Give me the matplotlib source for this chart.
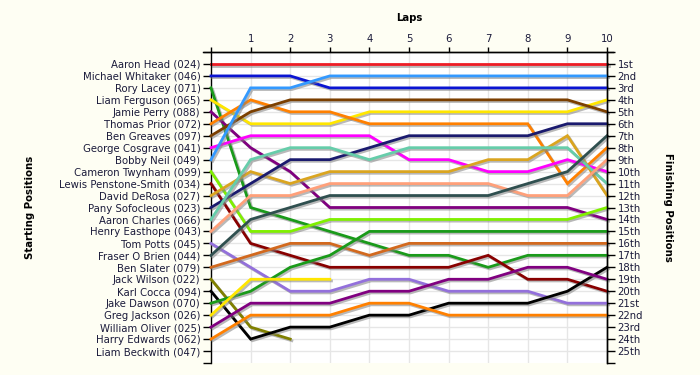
import numpy as np
import matplotlib
matplotlib.use("Agg")
import matplotlib.pyplot as plt
import matplotlib.patheffects as pe

laps = list(range(11))
lap_labels = ["", "1", "2", "3", "4", "5", "6", "7", "8", "9", "10"]

starting_names = [
    "Aaron Head (024)", "Michael Whitaker (046)", "Rory Lacey (071)", "Liam Ferguson (065)",
    "Jamie Perry (088)", "Thomas Prior (072)", "Ben Greaves (097)", "George Cosgrave (041)",
    "Bobby Neil (049)", "Cameron Twynham (099)", "Lewis Penstone-Smith (034)", "David DeRosa (027)",
    "Pany Sofocleous (023)", "Aaron Charles (066)", "Henry Easthope (043)", "Tom Potts (045)",
    "Fraser O Brien (044)", "Ben Slater (079)", "Jack Wilson (022)", "Karl Cocca (094)",
    "Jake Dawson (070)", "Greg Jackson (026)", "William Oliver (025)", "Harry Edwards (062)",
    "Liam Beckwith (047)",
]

finishing_labels = [
    "1st", "2nd", "3rd", "4th", "5th", "6th", "7th", "8th", "9th", "10th", "11th", "12th",
    "13th", "14th", "15th", "16th", "17th", "18th", "19th", "20th", "21st", "22nd", "23rd",
    "24th", "25th",
]

N = None
# position at laps 0..10 for each driver (same order as starting_names)
positions = [
    [1, 1, 1, 1, 1, 1, 1, 1, 1, 1, 1],
    [2, 2, 2, 3, 3, 3, 3, 3, 3, 3, 3],
    [3, 13, 14, 15, 16, 17, 17, 18, 17, 17, 17],
    [4, 6, 6, 6, 5, 5, 5, 5, 5, 5, 4],
    [5, 8, 10, 13, 13, 13, 13, 13, 13, 13, 14],
    [6, 4, 5, 5, 6, 6, 6, 6, 6, 11, 8],
    [7, 5, 4, 4, 4, 4, 4, 4, 4, 4, 5],
    [8, 7, 7, 7, 7, 9, 9, 10, 10, 9, 10],
    [9, 3, 3, 2, 2, 2, 2, 2, 2, 2, 2],
    [10, 15, 15, 14, 14, 14, 14, 14, 14, 14, 13],
    [11, 16, 17, 18, 18, 18, 18, 17, 19, 19, 20],
    [12, 10, 11, 10, 10, 10, 10, 9, 9, 7, 12],
    [13, 11, 9, 9, 8, 7, 7, 7, 7, 6, 6],
    [14, 9, 8, 8, 9, 8, 8, 8, 8, 8, 11],
    [15, 12, 12, 11, 11, 11, 11, 11, 12, 12, 9],
    [16, 18, 20, 20, 19, 19, 20, 20, 20, 21, 21],
    [17, 14, 13, 12, 12, 12, 12, 12, 11, 10, 7],
    [18, 17, 16, 16, 17, 16, 16, 16, 16, 16, 16],
    [19, 23, 24, N, N, N, N, N, N, N, N],
    [20, 24, 23, 23, 22, 22, 21, 21, 21, 20, 18],
    [21, 20, 18, 17, 15, 15, 15, 15, 15, 15, 15],
    [22, 19, 19, 19, N, N, N, N, N, N, N],
    [23, 21, 21, 21, 20, 20, 19, 19, 18, 18, 19],
    [24, 22, 22, 22, 21, 21, 22, 22, 22, 22, 22],
    [N, N, N, N, N, N, N, N, N, N, N],
]

colors = [
    "#EE1C25", "#0A14D2", "#1A9A1A", "#FFE600", "#800080", "#FF8000", "#7B3F00", "#FF00FF",
    "#3399FF", "#80F000", "#880000", "#DAA520", "#1A1A6E", "#66CDAA", "#FFA07A", "#9370DB",
    "#2F4F4F", "#D2691E", "#808000", "#000000", "#1A9A1A", "#FFE600", "#800080", "#FF8000",
    "#888888",
]

FS = 7.3
TXT = "#1a1a3a"

fig = plt.figure(figsize=(7, 3.75), dpi=100, facecolor="#FEFEF3")
ax = fig.add_axes([211 / 700, 1 - 363 / 375, (607 - 211) / 700, (363 - 52) / 375])
ax.set_facecolor("white")

n_pos = len(starting_names)
ax.set_xlim(0, 10)
ax.set_ylim(n_pos + 1, 0)

# grid
for x in laps[1:]:
    ax.axvline(x, color="#E6E6E6", lw=1, zorder=0)
for y in range(1, n_pos + 1):
    ax.axhline(y, color="#E6E6E6", lw=1, zorder=0)

shadow = [pe.SimpleLineShadow(offset=(1.2, -1.2), shadow_color="#808080", alpha=0.55), pe.Normal()]
for i, (pos, c) in enumerate(zip(positions, colors)):
    arr = np.array([np.nan if p is None else p for p in pos], dtype=float)
    if np.all(np.isnan(arr)):
        continue
    ax.plot(laps, arr, color=c, lw=2.0, solid_joinstyle="miter", zorder=2 + i,
            path_effects=shadow, clip_on=False)

# spines
ax.spines["bottom"].set_visible(False)
for s in ["left", "right", "top"]:
    ax.spines[s].set_color("black")
    ax.spines[s].set_linewidth(1)

# y ticks
yt = list(range(0, n_pos + 2))
ax.set_yticks(yt)
ax.set_yticklabels([""] + starting_names + [""])
ax.tick_params(axis="y", which="both", left=True, right=False, direction="out",
               length=6, width=1, pad=1.5, labelsize=FS, labelcolor=TXT)

ax2 = ax.twinx()
ax2.set_ylim(n_pos + 1, 0)
ax2.set_yticks(yt)
ax2.set_yticklabels([""] + finishing_labels + [""])
ax2.tick_params(axis="y", right=True, direction="out", length=6, width=1, pad=1.5,
                labelsize=FS, labelcolor=TXT)
for s in ["bottom", "left", "top"]:
    ax2.spines[s].set_visible(False)
ax2.spines["right"].set_linewidth(1)

# x ticks on top
ax.set_xticks(laps)
ax.set_xticklabels(lap_labels)
ax.tick_params(axis="x", bottom=False, labelbottom=False, top=True, labeltop=True,
               direction="out", length=3.5, width=1, pad=2.5, labelsize=FS, labelcolor=TXT)

# extend top spine slightly beyond both sides
ax.plot([-0.2, 10.15], [0, 0], color="black", lw=1, clip_on=False, zorder=50)

fig.text(409 / 700, 1 - 18 / 375, "Laps", ha="center", va="center", fontsize=FS,
         fontweight="bold")
fig.text(30 / 700, 1 - 207 / 375, "Starting Positions", ha="center", va="center", fontsize=FS,
         fontweight="bold", rotation=90)
fig.text(668 / 700, 1 - 207 / 375, "Finishing Positions", ha="center", va="center", fontsize=FS,
         fontweight="bold", rotation=-90)

fig.savefig("out.png", dpi=100, facecolor=fig.get_facecolor())
